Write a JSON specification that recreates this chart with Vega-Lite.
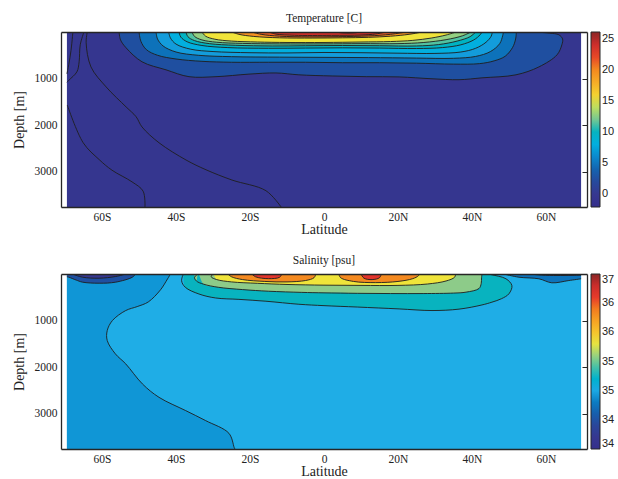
{
 "$schema": "https://vega.github.io/schema/vega-lite/v6.json",
 "background": "white",
 "padding": {"left": 12, "top": 12, "right": 5, "bottom": 0},
 "spacing": 17,
 "datasets": {
  "bg": [
   {"p":"T","x":-69.5,"x2":69.5,"d":0,"d2":3760,"v":-0.5},
   {"p":"S","x":-69.5,"x2":69.5,"d":0,"d2":3760,"v":35.02}
  ],
  "T": [
   {"s":"C","v":2.5,"x":-55.4,"d":0,"m":"b"},{"s":"C","v":2.5,"x":-55,"d":170,"m":"b"},{"s":"C","v":2.5,"x":-53.5,"d":340,"m":"b"},{"s":"C","v":2.5,"x":-49.2,"d":640,"m":"b"},{"s":"C","v":2.5,"x":-42.7,"d":813,"m":"b"},{"s":"C","v":2.5,"x":-36.5,"d":960,"m":"b"},{"s":"C","v":2.5,"x":-29.2,"d":960,"m":"b"},{"s":"C","v":2.5,"x":-20.3,"d":905,"m":"b"},{"s":"C","v":2.5,"x":-13,"d":880,"m":"b"},{"s":"C","v":2.5,"x":-6.8,"d":920,"m":"b"},{"s":"C","v":2.5,"x":2.2,"d":945,"m":"b"},{"s":"C","v":2.5,"x":11.4,"d":960,"m":"b"},{"s":"C","v":2.5,"x":20.3,"d":965,"m":"b"},{"s":"C","v":2.5,"x":29.2,"d":1005,"m":"b"},{"s":"C","v":2.5,"x":36.5,"d":1025,"m":"b"},{"s":"C","v":2.5,"x":42.7,"d":985,"m":"b"},{"s":"C","v":2.5,"x":51.9,"d":920,"m":"b"},{"s":"C","v":2.5,"x":58.1,"d":750,"m":"b"},{"s":"C","v":2.5,"x":63,"d":490,"m":"b"},{"s":"C","v":2.5,"x":64.3,"d":275,"m":"b"},{"s":"C","v":2.5,"x":64.5,"d":150,"m":"b"},
   {"s":"C","v":2.5,"x":63.5,"d":60,"m":"l"},{"s":"C","v":2.5,"x":61,"d":25,"m":"l"},{"s":"C","v":2.5,"x":57.3,"d":0,"m":"l"},
   {"s":"Cr","v":-0.5,"x":57.3,"d":0,"m":"a"},{"s":"Cr","v":-0.5,"x":61,"d":25,"m":"a"},{"s":"Cr","v":-0.5,"x":63.5,"d":60,"m":"a"},{"s":"Cr","v":-0.5,"x":64.5,"d":150,"m":"a"},
   {"s":"L4","v":5,"x":-50,"d":0,"m":"b"},{"s":"L4","v":5,"x":-49.5,"d":200,"m":"b"},{"s":"L4","v":5,"x":-48,"d":380,"m":"b"},{"s":"L4","v":5,"x":-45,"d":500,"m":"b"},{"s":"L4","v":5,"x":-40,"d":580,"m":"b"},{"s":"L4","v":5,"x":-33,"d":630,"m":"b"},{"s":"L4","v":5,"x":-25,"d":650,"m":"b"},{"s":"L4","v":5,"x":-15,"d":650,"m":"b"},{"s":"L4","v":5,"x":-5,"d":650,"m":"b"},{"s":"L4","v":5,"x":5,"d":660,"m":"b"},{"s":"L4","v":5,"x":15,"d":660,"m":"b"},{"s":"L4","v":5,"x":25,"d":670,"m":"b"},{"s":"L4","v":5,"x":35,"d":690,"m":"b"},{"s":"L4","v":5,"x":42,"d":680,"m":"b"},{"s":"L4","v":5,"x":46,"d":620,"m":"b"},{"s":"L4","v":5,"x":49,"d":520,"m":"b"},{"s":"L4","v":5,"x":51,"d":330,"m":"b"},{"s":"L4","v":5,"x":51.8,"d":150,"m":"b"},{"s":"L4","v":5,"x":52,"d":0,"m":"b"},
   {"s":"L6","v":6.8,"x":-45.4,"d":0,"m":"b"},{"s":"L6","v":6.8,"x":-45,"d":150,"m":"b"},{"s":"L6","v":6.8,"x":-43.5,"d":300,"m":"b"},{"s":"L6","v":6.8,"x":-40,"d":430,"m":"b"},{"s":"L6","v":6.8,"x":-34,"d":500,"m":"b"},{"s":"L6","v":6.8,"x":-25,"d":530,"m":"b"},{"s":"L6","v":6.8,"x":-12,"d":540,"m":"b"},{"s":"L6","v":6.8,"x":0,"d":545,"m":"b"},{"s":"L6","v":6.8,"x":12,"d":550,"m":"b"},{"s":"L6","v":6.8,"x":25,"d":560,"m":"b"},{"s":"L6","v":6.8,"x":35,"d":565,"m":"b"},{"s":"L6","v":6.8,"x":41,"d":525,"m":"b"},{"s":"L6","v":6.8,"x":45,"d":420,"m":"b"},{"s":"L6","v":6.8,"x":47.5,"d":250,"m":"b"},{"s":"L6","v":6.8,"x":48.3,"d":80,"m":"b"},{"s":"L6","v":6.8,"x":48.5,"d":0,"m":"b"},
   {"s":"L8","v":8,"x":-42,"d":0,"m":"b"},{"s":"L8","v":8,"x":-41.5,"d":130,"m":"b"},{"s":"L8","v":8,"x":-40,"d":260,"m":"b"},{"s":"L8","v":8,"x":-36,"d":370,"m":"b"},{"s":"L8","v":8,"x":-30,"d":420,"m":"b"},{"s":"L8","v":8,"x":-20,"d":445,"m":"b"},{"s":"L8","v":8,"x":-10,"d":450,"m":"b"},{"s":"L8","v":8,"x":0,"d":440,"m":"b"},{"s":"L8","v":8,"x":10,"d":445,"m":"b"},{"s":"L8","v":8,"x":20,"d":455,"m":"b"},{"s":"L8","v":8,"x":30,"d":460,"m":"b"},{"s":"L8","v":8,"x":37,"d":430,"m":"b"},{"s":"L8","v":8,"x":41,"d":350,"m":"b"},{"s":"L8","v":8,"x":43.8,"d":220,"m":"b"},{"s":"L8","v":8,"x":45.2,"d":90,"m":"b"},{"s":"L8","v":8,"x":45.5,"d":0,"m":"b"},
   {"s":"L10","v":9.8,"x":-39.2,"d":0,"m":"b"},{"s":"L10","v":9.8,"x":-38.7,"d":110,"m":"b"},{"s":"L10","v":9.8,"x":-37,"d":210,"m":"b"},{"s":"L10","v":9.8,"x":-33,"d":290,"m":"b"},{"s":"L10","v":9.8,"x":-26,"d":335,"m":"b"},{"s":"L10","v":9.8,"x":-15,"d":350,"m":"b"},{"s":"L10","v":9.8,"x":-5,"d":345,"m":"b"},{"s":"L10","v":9.8,"x":5,"d":340,"m":"b"},{"s":"L10","v":9.8,"x":15,"d":345,"m":"b"},{"s":"L10","v":9.8,"x":25,"d":355,"m":"b"},{"s":"L10","v":9.8,"x":32,"d":335,"m":"b"},{"s":"L10","v":9.8,"x":37,"d":275,"m":"b"},{"s":"L10","v":9.8,"x":40.5,"d":170,"m":"b"},{"s":"L10","v":9.8,"x":42.2,"d":60,"m":"b"},{"s":"L10","v":9.8,"x":42.7,"d":0,"m":"b"},
   {"s":"L12","v":11.3,"x":-37.3,"d":0,"m":"b"},{"s":"L12","v":11.3,"x":-36.8,"d":100,"m":"b"},{"s":"L12","v":11.3,"x":-35,"d":185,"m":"b"},{"s":"L12","v":11.3,"x":-31,"d":250,"m":"b"},{"s":"L12","v":11.3,"x":-24,"d":285,"m":"b"},{"s":"L12","v":11.3,"x":-14,"d":300,"m":"b"},{"s":"L12","v":11.3,"x":-5,"d":295,"m":"b"},{"s":"L12","v":11.3,"x":5,"d":290,"m":"b"},{"s":"L12","v":11.3,"x":15,"d":295,"m":"b"},{"s":"L12","v":11.3,"x":25,"d":300,"m":"b"},{"s":"L12","v":11.3,"x":31,"d":270,"m":"b"},{"s":"L12","v":11.3,"x":36,"d":195,"m":"b"},{"s":"L12","v":11.3,"x":39.5,"d":100,"m":"b"},{"s":"L12","v":11.3,"x":41,"d":0,"m":"b"},
   {"s":"L14","v":12.8,"x":-35.7,"d":0,"m":"b"},{"s":"L14","v":12.8,"x":-35,"d":95,"m":"b"},{"s":"L14","v":12.8,"x":-33,"d":170,"m":"b"},{"s":"L14","v":12.8,"x":-29,"d":220,"m":"b"},{"s":"L14","v":12.8,"x":-22,"d":245,"m":"b"},{"s":"L14","v":12.8,"x":-12,"d":255,"m":"b"},{"s":"L14","v":12.8,"x":0,"d":255,"m":"b"},{"s":"L14","v":12.8,"x":10,"d":250,"m":"b"},{"s":"L14","v":12.8,"x":20,"d":250,"m":"b"},{"s":"L14","v":12.8,"x":27,"d":225,"m":"b"},{"s":"L14","v":12.8,"x":33,"d":165,"m":"b"},{"s":"L14","v":12.8,"x":37.5,"d":80,"m":"b"},{"s":"L14","v":12.8,"x":39.7,"d":0,"m":"b"},
   {"s":"L16","v":15,"x":-33,"d":0,"m":"b"},{"s":"L16","v":15,"x":-32,"d":90,"m":"b"},{"s":"L16","v":15,"x":-29.5,"d":155,"m":"b"},{"s":"L16","v":15,"x":-25,"d":195,"m":"b"},{"s":"L16","v":15,"x":-18,"d":215,"m":"b"},{"s":"L16","v":15,"x":-10,"d":225,"m":"b"},{"s":"L16","v":15,"x":0,"d":225,"m":"b"},{"s":"L16","v":15,"x":10,"d":215,"m":"b"},{"s":"L16","v":15,"x":18,"d":205,"m":"b"},{"s":"L16","v":15,"x":24,"d":180,"m":"b"},{"s":"L16","v":15,"x":29,"d":130,"m":"b"},{"s":"L16","v":15,"x":33,"d":65,"m":"b"},{"s":"L16","v":15,"x":35.7,"d":0,"m":"b"},
   {"s":"L20","v":19.5,"x":-24.9,"d":0,"m":"b"},{"s":"L20","v":19.5,"x":-23,"d":50,"m":"b"},{"s":"L20","v":19.5,"x":-19,"d":95,"m":"b"},{"s":"L20","v":19.5,"x":-12,"d":125,"m":"b"},{"s":"L20","v":19.5,"x":-3,"d":130,"m":"b"},{"s":"L20","v":19.5,"x":5,"d":125,"m":"b"},{"s":"L20","v":19.5,"x":12,"d":115,"m":"b"},{"s":"L20","v":19.5,"x":18,"d":90,"m":"b"},{"s":"L20","v":19.5,"x":23,"d":50,"m":"b"},{"s":"L20","v":19.5,"x":26.5,"d":0,"m":"b"},
   {"s":"L22","v":21.5,"x":-19.5,"d":0,"m":"b"},{"s":"L22","v":21.5,"x":-17,"d":50,"m":"b"},{"s":"L22","v":21.5,"x":-12,"d":90,"m":"b"},{"s":"L22","v":21.5,"x":-4,"d":105,"m":"b"},{"s":"L22","v":21.5,"x":4,"d":100,"m":"b"},{"s":"L22","v":21.5,"x":12,"d":85,"m":"b"},{"s":"L22","v":21.5,"x":18,"d":50,"m":"b"},{"s":"L22","v":21.5,"x":22.2,"d":0,"m":"b"},
   {"s":"L24","v":23.5,"x":-14.9,"d":0,"m":"b"},{"s":"L24","v":23.5,"x":-13,"d":45,"m":"b"},{"s":"L24","v":23.5,"x":-8,"d":70,"m":"b"},{"s":"L24","v":23.5,"x":2,"d":72,"m":"b"},{"s":"L24","v":23.5,"x":10,"d":65,"m":"b"},{"s":"L24","v":23.5,"x":14,"d":42,"m":"b"},{"s":"L24","v":23.5,"x":16.8,"d":0,"m":"b"},
   {"s":"L26","v":25.8,"x":3,"d":0,"m":"b"},{"s":"L26","v":25.8,"x":5,"d":20,"m":"b"},{"s":"L26","v":25.8,"x":8,"d":20,"m":"b"},{"s":"L26","v":25.8,"x":10,"d":0,"m":"b"},
   {"s":"A","v":0,"x":-69.4,"d":1570,"m":"l"},{"s":"A","v":0,"x":-65.1,"d":2380,"m":"l"},{"s":"A","v":0,"x":-60.8,"d":2740,"m":"l"},{"s":"A","v":0,"x":-57.3,"d":2970,"m":"l"},{"s":"A","v":0,"x":-51.9,"d":3220,"m":"l"},{"s":"A","v":0,"x":-48.9,"d":3420,"m":"l"},{"s":"A","v":0,"x":-48.4,"d":3760,"m":"l"},
   {"s":"B","v":0,"x":-64,"d":0,"m":"l"},{"s":"B","v":0,"x":-64.3,"d":230,"m":"l"},{"s":"B","v":0,"x":-63,"d":750,"m":"l"},{"s":"B","v":0,"x":-58.9,"d":1180,"m":"l"},{"s":"B","v":0,"x":-53.5,"d":1610,"m":"l"},{"s":"B","v":0,"x":-50.8,"d":1820,"m":"l"},{"s":"B","v":0,"x":-49.2,"d":2040,"m":"l"},{"s":"B","v":0,"x":-44.6,"d":2380,"m":"l"},{"s":"B","v":0,"x":-37.3,"d":2750,"m":"l"},{"s":"B","v":0,"x":-31.9,"d":2960,"m":"l"},{"s":"B","v":0,"x":-24.9,"d":3180,"m":"l"},{"s":"B","v":0,"x":-15.7,"d":3410,"m":"l"},{"s":"B","v":0,"x":-11.6,"d":3760,"m":"l"},
   {"s":"D1","v":0,"x":-67.9,"d":0,"m":"l"},{"s":"D1","v":0,"x":-68,"d":100,"m":"l"},{"s":"D1","v":0,"x":-68.4,"d":400,"m":"l"},{"s":"D1","v":0,"x":-69,"d":700,"m":"l"},{"s":"D1","v":0,"x":-69.5,"d":900,"m":"l"},
   {"s":"D2","v":0,"x":-64.9,"d":0,"m":"l"},{"s":"D2","v":0,"x":-65.9,"d":275,"m":"l"},{"s":"D2","v":0,"x":-66.2,"d":640,"m":"l"},{"s":"D2","v":0,"x":-66.8,"d":856,"m":"l"},{"s":"D2","v":0,"x":-68.9,"d":1030,"m":"l"},{"s":"D2","v":0,"x":-69.5,"d":1080,"m":"l"}
  ],
  "S": [
   {"s":"S1","v":34.92,"x":-41.5,"d":0,"m":"b"},{"s":"S1","v":34.92,"x":-42.3,"d":105,"m":"b"},{"s":"S1","v":34.92,"x":-44.2,"d":340,"m":"b"},{"s":"S1","v":34.92,"x":-47.5,"d":600,"m":"b"},{"s":"S1","v":34.92,"x":-50.5,"d":700,"m":"b"},{"s":"S1","v":34.92,"x":-53.6,"d":785,"m":"b"},{"s":"S1","v":34.92,"x":-57.2,"d":1000,"m":"b"},{"s":"S1","v":34.92,"x":-58.6,"d":1215,"m":"b"},{"s":"S1","v":34.92,"x":-58.6,"d":1430,"m":"b"},{"s":"S1","v":34.92,"x":-56.4,"d":1716,"m":"b"},{"s":"S1","v":34.92,"x":-53.6,"d":1931,"m":"b"},{"s":"S1","v":34.92,"x":-49.1,"d":2361,"m":"b"},{"s":"S1","v":34.92,"x":-44.6,"d":2650,"m":"b"},{"s":"S1","v":34.92,"x":-37.4,"d":2935,"m":"b"},{"s":"S1","v":34.92,"x":-32,"d":3150,"m":"b"},{"s":"S1","v":34.92,"x":-25.7,"d":3423,"m":"b"},{"s":"S1","v":34.92,"x":-24.3,"d":3724,"m":"b"},{"s":"S1","v":34.92,"x":-24.1,"d":3760,"m":"b"},
   {"s":"TLr","v":34.49,"x":-69.5,"d":60,"m":"b"},{"s":"TLr","v":34.49,"x":-69,"d":68,"m":"b"},{"s":"TLr","v":34.49,"x":-67,"d":130,"m":"b"},{"s":"TLr","v":34.49,"x":-65.3,"d":175,"m":"b"},{"s":"TLr","v":34.49,"x":-60.8,"d":198,"m":"b"},{"s":"TLr","v":34.49,"x":-56.3,"d":175,"m":"b"},{"s":"TLr","v":34.49,"x":-51.8,"d":68,"m":"b"},{"s":"TLr","v":34.49,"x":-50.9,"d":0,"m":"b"},
   {"s":"TLc","v":34.2,"x":-68,"d":0,"m":"b"},{"s":"TLc","v":34.2,"x":-65.3,"d":68,"m":"b"},{"s":"TLc","v":34.2,"x":-60.8,"d":90,"m":"b"},{"s":"TLc","v":34.2,"x":-56.3,"d":54,"m":"b"},{"s":"TLc","v":34.2,"x":-53.6,"d":0,"m":"b"},
   {"s":"S2","v":35.29,"x":-38,"d":0,"m":"b"},{"s":"S2","v":35.29,"x":-38.5,"d":145,"m":"b"},{"s":"S2","v":35.29,"x":-37.5,"d":285,"m":"b"},{"s":"S2","v":35.29,"x":-33.8,"d":430,"m":"b"},{"s":"S2","v":35.29,"x":-29.3,"d":515,"m":"b"},{"s":"S2","v":35.29,"x":-23,"d":545,"m":"b"},{"s":"S2","v":35.29,"x":-15.7,"d":585,"m":"b"},{"s":"S2","v":35.29,"x":-6.8,"d":650,"m":"b"},{"s":"S2","v":35.29,"x":0,"d":680,"m":"b"},{"s":"S2","v":35.29,"x":9,"d":710,"m":"b"},{"s":"S2","v":35.29,"x":20.3,"d":750,"m":"b"},{"s":"S2","v":35.29,"x":29.2,"d":785,"m":"b"},{"s":"S2","v":35.29,"x":36.5,"d":755,"m":"b"},{"s":"S2","v":35.29,"x":42.7,"d":665,"m":"b"},{"s":"S2","v":35.29,"x":45.4,"d":605,"m":"b"},{"s":"S2","v":35.29,"x":48,"d":530,"m":"b"},{"s":"S2","v":35.29,"x":50,"d":425,"m":"b"},{"s":"S2","v":35.29,"x":50.8,"d":250,"m":"b"},
   {"s":"S2","v":35.29,"x":49.2,"d":103,"m":"l"},{"s":"S2","v":35.29,"x":45.4,"d":17,"m":"l"},{"s":"S2","v":35.29,"x":44.5,"d":0,"m":"l"},
   {"s":"S2r","v":35.02,"x":44.5,"d":0,"m":"a"},{"s":"S2r","v":35.02,"x":45.4,"d":17,"m":"a"},{"s":"S2r","v":35.02,"x":49.2,"d":103,"m":"a"},{"s":"S2r","v":35.02,"x":50.8,"d":250,"m":"a"},
   {"s":"S3","v":35.55,"x":-34,"d":0,"m":"b"},{"s":"S3","v":35.55,"x":-35,"d":70,"m":"b"},{"s":"S3","v":35.55,"x":-34.5,"d":150,"m":"b"},{"s":"S3","v":35.55,"x":-32.5,"d":220,"m":"b"},{"s":"S3","v":35.55,"x":-28.6,"d":285,"m":"b"},{"s":"S3","v":35.55,"x":-22,"d":335,"m":"b"},{"s":"S3","v":35.55,"x":-15,"d":370,"m":"b"},{"s":"S3","v":35.55,"x":-6,"d":395,"m":"b"},{"s":"S3","v":35.55,"x":0,"d":405,"m":"b"},{"s":"S3","v":35.55,"x":9,"d":415,"m":"b"},{"s":"S3","v":35.55,"x":18,"d":420,"m":"b"},{"s":"S3","v":35.55,"x":27,"d":420,"m":"b"},{"s":"S3","v":35.55,"x":35,"d":410,"m":"b"},{"s":"S3","v":35.55,"x":38.4,"d":390,"m":"b"},{"s":"S3","v":35.55,"x":41.9,"d":312,"m":"b"},{"s":"S3","v":35.55,"x":42.5,"d":204,"m":"b"},{"s":"S3","v":35.55,"x":42.6,"d":80,"m":"b"},{"s":"S3","v":35.55,"x":42.7,"d":0,"m":"b"},
   {"s":"S4","v":35.82,"x":-30,"d":0,"m":"b"},{"s":"S4","v":35.82,"x":-30.5,"d":60,"m":"b"},{"s":"S4","v":35.82,"x":-29,"d":120,"m":"b"},{"s":"S4","v":35.82,"x":-25,"d":170,"m":"b"},{"s":"S4","v":35.82,"x":-18,"d":200,"m":"b"},{"s":"S4","v":35.82,"x":-10,"d":225,"m":"b"},{"s":"S4","v":35.82,"x":0,"d":240,"m":"b"},{"s":"S4","v":35.82,"x":10,"d":245,"m":"b"},{"s":"S4","v":35.82,"x":20,"d":245,"m":"b"},{"s":"S4","v":35.82,"x":28,"d":215,"m":"b"},{"s":"S4","v":35.82,"x":33,"d":150,"m":"b"},{"s":"S4","v":35.82,"x":35.3,"d":70,"m":"b"},{"s":"S4","v":35.82,"x":35.6,"d":0,"m":"b"},
   {"s":"S5a","v":36.35,"x":-26,"d":0,"m":"b"},{"s":"S5a","v":36.35,"x":-25,"d":60,"m":"b"},{"s":"S5a","v":36.35,"x":-22,"d":120,"m":"b"},{"s":"S5a","v":36.35,"x":-16,"d":160,"m":"b"},{"s":"S5a","v":36.35,"x":-10,"d":170,"m":"b"},{"s":"S5a","v":36.35,"x":-5,"d":140,"m":"b"},{"s":"S5a","v":36.35,"x":-2.7,"d":80,"m":"b"},{"s":"S5a","v":36.35,"x":-2.2,"d":0,"m":"b"},
   {"s":"S5b","v":36.35,"x":4,"d":0,"m":"b"},{"s":"S5b","v":36.35,"x":4.5,"d":80,"m":"b"},{"s":"S5b","v":36.35,"x":8,"d":160,"m":"b"},{"s":"S5b","v":36.35,"x":14,"d":185,"m":"b"},{"s":"S5b","v":36.35,"x":20,"d":160,"m":"b"},{"s":"S5b","v":36.35,"x":24,"d":100,"m":"b"},{"s":"S5b","v":36.35,"x":25.5,"d":40,"m":"b"},{"s":"S5b","v":36.35,"x":25.8,"d":0,"m":"b"},
   {"s":"S6a","v":36.62,"x":-19.5,"d":0,"m":"b"},{"s":"S6a","v":36.62,"x":-18.5,"d":60,"m":"b"},{"s":"S6a","v":36.62,"x":-15,"d":100,"m":"b"},{"s":"S6a","v":36.62,"x":-12,"d":70,"m":"b"},{"s":"S6a","v":36.62,"x":-11.4,"d":0,"m":"b"},
   {"s":"S6b","v":36.62,"x":10,"d":0,"m":"b"},{"s":"S6b","v":36.62,"x":10.8,"d":90,"m":"b"},{"s":"S6b","v":36.62,"x":13,"d":120,"m":"b"},{"s":"S6b","v":36.62,"x":15,"d":80,"m":"b"},{"s":"S6b","v":36.62,"x":15.5,"d":0,"m":"b"},
   {"s":"TRb","v":34.755,"x":48.6,"d":0,"m":"b"},{"s":"TRb","v":34.755,"x":52.7,"d":69,"m":"b"},{"s":"TRb","v":34.755,"x":58.1,"d":103,"m":"b"},{"s":"TRb","v":34.755,"x":61.6,"d":189,"m":"b"},{"s":"TRb","v":34.755,"x":66.2,"d":140,"m":"b"},{"s":"TRb","v":34.755,"x":69.5,"d":103,"m":"b"},
   {"s":"TRc","v":34.2,"x":56,"d":0,"m":"b"},{"s":"TRc","v":34.2,"x":58,"d":20,"m":"b"},{"s":"TRc","v":34.2,"x":62,"d":32,"m":"b"},{"s":"TRc","v":34.2,"x":66,"d":30,"m":"b"},{"s":"TRc","v":34.2,"x":69.5,"d":25,"m":"b"}
  ]
 },
 "vconcat": [
  {
   "width": 526, "height": 175,
   "title": {"text": "Temperature [C]", "frame": "group", "offset": 8},
   "layer": [
    {
     "data": {"name": "bg"},
     "transform": [{"filter": "datum.p == 'T'"}],
     "mark": {"type": "rect"},
     "encoding": {
      "x": {"field": "x", "type": "quantitative", "scale": {"domain": [-71.1, 71.1], "nice": false, "zero": false},
            "axis": {"orient": "bottom", "values": [-60,-40,-20,0,20,40,60], "labelExpr": "datum.value < 0 ? (-datum.value) + 'S' : (datum.value > 0 ? datum.value + 'N' : '0')", "title": "Latitude", "ticks": false, "labelPadding": 4, "titlePadding": 0, "grid": false, "zindex": 1}},
      "x2": {"field": "x2"},
      "y": {"field": "d", "type": "quantitative", "scale": {"domain": [0, 3760], "reverse": true, "nice": false, "zero": false},
            "axis": {"orient": "left", "values": [1000, 2000, 3000], "format": "d", "title": "Depth [m]", "ticks": false, "labelPadding": 4, "titlePadding": 8, "grid": false, "zindex": 1}},
      "y2": {"field": "d2"},
      "color": {"field": "v", "type": "quantitative",
        "scale": {"type": "linear", "domain": [-2.1,0.5,2.5,5,7.5,10,12.5,15,17.5,20,22.5,25,26.1], "range": ["#352f8c","#363a91","#1f4fa0","#0d72ba","#1fade6","#06b3c0","#8ecb89","#f0e43a","#f6b52b","#f4891f","#e4342b","#c02a2a","#8a2626"]},
        "legend": {"values": [0,5,10,15,20,25], "title": null}}
     }
    },
    {
     "data": {"name": "T"},
     "transform": [{"filter": "datum.m != 'l'"}],
     "mark": {"type": "area", "interpolate": "catmull-rom", "clip": true},
     "encoding": {
      "x": {"field": "x", "type": "quantitative", "axis": null},
      "y": {"field": "d", "type": "quantitative", "stack": null, "axis": null},
      "y2": {"datum": 0},
      "color": {"field": "v", "type": "quantitative"},
      "detail": {"field": "s"}
     }
    },
    {
     "data": {"name": "T"},
     "transform": [{"filter": "datum.m != 'a'"}],
     "mark": {"type": "line", "interpolate": "catmull-rom", "color": "#1e1e1e", "strokeWidth": 0.9, "clip": true},
     "encoding": {
      "x": {"field": "x", "type": "quantitative", "axis": {"orient": "top", "labels": false, "ticks": false, "title": null, "grid": false, "zindex": 1}},
      "y": {"field": "d", "type": "quantitative", "axis": {"orient": "right", "values": [1000, 2000, 3000], "labels": false, "tickSize": -5, "title": null, "grid": false, "zindex": 1}},
      "detail": {"field": "s"},
      "order": {"value": null}
     }
    }
   ],
   "resolve": {"axis": {"x": "independent", "y": "independent"}}
  },
  {
   "width": 526, "height": 175,
   "title": {"text": "Salinity [psu]", "frame": "group", "offset": 8},
   "layer": [
    {
     "data": {"name": "bg"},
     "transform": [{"filter": "datum.p == 'S'"}],
     "mark": {"type": "rect"},
     "encoding": {
      "x": {"field": "x", "type": "quantitative", "scale": {"domain": [-71.1, 71.1], "nice": false, "zero": false},
            "axis": {"orient": "bottom", "values": [-60,-40,-20,0,20,40,60], "labelExpr": "datum.value < 0 ? (-datum.value) + 'S' : (datum.value > 0 ? datum.value + 'N' : '0')", "title": "Latitude", "ticks": false, "labelPadding": 4, "titlePadding": 0, "grid": false, "zindex": 1}},
      "x2": {"field": "x2"},
      "y": {"field": "d", "type": "quantitative", "scale": {"domain": [0, 3760], "reverse": true, "nice": false, "zero": false},
            "axis": {"orient": "left", "values": [1000, 2000, 3000], "format": "d", "title": "Depth [m]", "ticks": false, "labelPadding": 4, "titlePadding": 8, "grid": false, "zindex": 1}},
      "y2": {"field": "d2"},
      "color": {"field": "v", "type": "quantitative",
        "scale": {"type": "linear", "domain": [34,34.277,34.489,34.755,35.021,35.287,35.553,35.819,36.085,36.351,36.617,36.883,37], "range": ["#352f8c","#363a91","#1f4fa0","#0d72ba","#1fade6","#06b3c0","#8ecb89","#f0e43a","#f6b52b","#f4891f","#e4342b","#c02a2a","#8a2626"]},
        "legend": {"values": [34,34.5,35,35.5,36,36.5,37], "labelExpr": "floor(datum.value)", "title": null}}
     }
    },
    {
     "data": {"name": "S"},
     "transform": [{"filter": "datum.s == 'S1'"}],
     "mark": {"type": "area", "orient": "horizontal", "interpolate": "catmull-rom", "clip": true},
     "encoding": {
      "y": {"field": "d", "type": "quantitative", "axis": null},
      "x": {"field": "x", "type": "quantitative", "stack": null, "axis": null},
      "x2": {"datum": -69.5},
      "color": {"field": "v", "type": "quantitative"}
     }
    },
    {
     "data": {"name": "S"},
     "transform": [{"filter": "datum.s != 'S1' && datum.m != 'l'"}],
     "mark": {"type": "area", "interpolate": "catmull-rom", "clip": true},
     "encoding": {
      "x": {"field": "x", "type": "quantitative", "axis": null},
      "y": {"field": "d", "type": "quantitative", "stack": null, "axis": null},
      "y2": {"datum": 0},
      "color": {"field": "v", "type": "quantitative"},
      "detail": {"field": "s"}
     }
    },
    {
     "data": {"name": "S"},
     "transform": [{"filter": "datum.m != 'a'"}],
     "mark": {"type": "line", "interpolate": "catmull-rom", "color": "#1e1e1e", "strokeWidth": 0.9, "clip": true},
     "encoding": {
      "x": {"field": "x", "type": "quantitative", "axis": {"orient": "top", "labels": false, "ticks": false, "title": null, "grid": false, "zindex": 1}},
      "y": {"field": "d", "type": "quantitative", "axis": {"orient": "right", "values": [1000, 2000, 3000], "labels": false, "tickSize": -5, "title": null, "grid": false, "zindex": 1}},
      "detail": {"field": "s"},
      "order": {"value": null}
     }
    }
   ],
   "resolve": {"axis": {"x": "independent", "y": "independent"}}
  }
 ],
 "resolve": {"scale": {"color": "independent"}, "legend": {"color": "independent"}},
 "config": {
  "font": "Liberation Serif",
  "view": {"stroke": null},
  "axis": {"labelFont": "Liberation Serif", "labelFontSize": 11.5, "labelColor": "#222", "titleFont": "Liberation Serif", "titleFontSize": 14, "titleFontWeight": "normal", "titleColor": "#222", "domainColor": "#262626", "domainWidth": 1.3, "tickColor": "#262626"},
  "title": {"font": "Liberation Serif", "fontSize": 11.5, "fontWeight": "normal", "color": "#222"},
  "legend": {"orient": "right", "offset": 3, "padding": 0, "gradientLength": 175, "gradientThickness": 9, "gradientStrokeColor": "#262626", "gradientStrokeWidth": 1, "labelFont": "Liberation Sans", "labelFontSize": 11, "labelColor": "#222", "labelOffset": 4, "labelOverlap": false, "labelBaseline": "middle"}
 }
}
